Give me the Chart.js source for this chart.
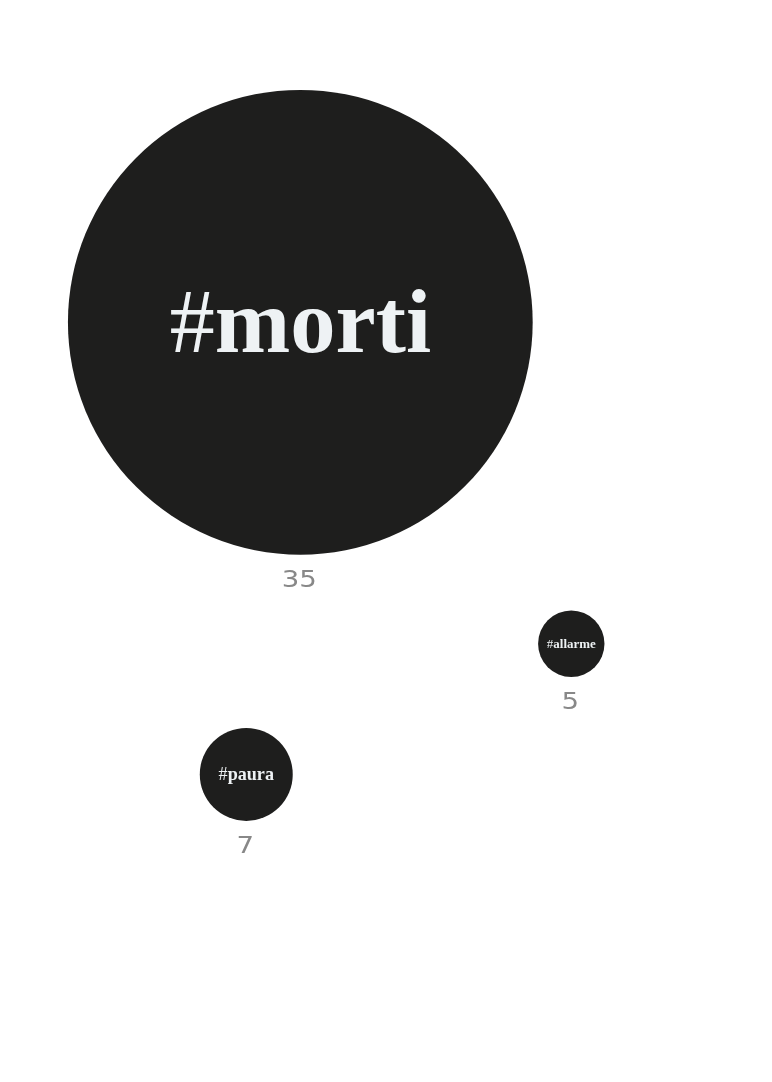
<!DOCTYPE html>
<html>
<head>
<meta charset="utf-8">
<script src="https://cdn.jsdelivr.net/npm/chart.js@4/dist/chart.umd.min.js"></script>
<style>
html,body{margin:0;padding:0;background:#ffffff;}
#wrap{width:772px;height:1082px;position:relative;}
</style>
</head>
<body>
<div id="wrap"><canvas id="c"></canvas></div>
<script>
// Data
const tags = ['morti', 'allarme', 'paura'];
const counts = [35, 5, 7];
// layout positions of bubble centres (abstract layout units)
const xPos = [38.9, 74.0, 31.9];
const yPos = [98.3, 56.7, 39.8];

const BUBBLE = '#1e1e1d';
const TEXT = '#eef2f4';
const NUM = '#888888';

const labelPlugin = {
  id: 'bubbleLabels',
  afterDatasetsDraw(chart) {
    const ctx = chart.ctx;
    const meta = chart.getDatasetMeta(0);
    meta.data.forEach((el, i) => {
      const r = el.options.radius;
      const fs = r * 0.39;
      const hashFont = '400 ' + fs + 'px "Liberation Serif", "DejaVu Serif", serif';
      const wordFont = '700 ' + fs + 'px "Liberation Serif", "DejaVu Serif", serif';
      ctx.save();
      ctx.textBaseline = 'alphabetic';
      ctx.textAlign = 'left';
      ctx.font = hashFont;
      const wHash = ctx.measureText('#').width;
      ctx.font = wordFont;
      const wWord = ctx.measureText(tags[i]).width;
      const total = wHash + wWord;
      const x0 = el.x - total / 2;
      const by = el.y + fs * 0.33;
      ctx.fillStyle = TEXT;
      ctx.font = hashFont;
      ctx.fillText('#', x0, by);
      ctx.font = wordFont;
      ctx.fillText(tags[i], x0 + wHash, by);
      ctx.restore();
      // value below (wide, light sans)
      ctx.save();
      ctx.translate(el.x - 1, el.y + r + 26);
      ctx.scale(1.2, 1);
      ctx.font = '400 23px "DejaVu Sans", "Liberation Sans", sans-serif';
      ctx.fillStyle = NUM;
      ctx.textAlign = 'center';
      ctx.textBaseline = 'middle';
      ctx.fillText(String(counts[i]), 0, 0);
      ctx.restore();
    });
  }
};

new Chart(document.getElementById('c'), {
  type: 'bubble',
  data: {
    datasets: [{
      data: tags.map((t, i) => ({ x: xPos[i], y: yPos[i], v: counts[i] })),
      backgroundColor: BUBBLE,
      borderWidth: 0,
      hoverBorderWidth: 0,
      radius: (c) => counts[c.dataIndex] * c.chart.width * 0.0086,
      hoverRadius: 0,
      clip: false
    }]
  },
  options: {
    responsive: true,
    maintainAspectRatio: false,
    animation: false,
    events: [],
    layout: { padding: 0, autoPadding: false },
    plugins: { legend: { display: false }, tooltip: { enabled: false } },
    scales: {
      x: { type: 'linear', min: 0, max: 100, display: false },
      y: { type: 'linear', min: 0, max: 140, display: false }
    }
  },
  plugins: [labelPlugin]
});
</script>
</body>
</html>
